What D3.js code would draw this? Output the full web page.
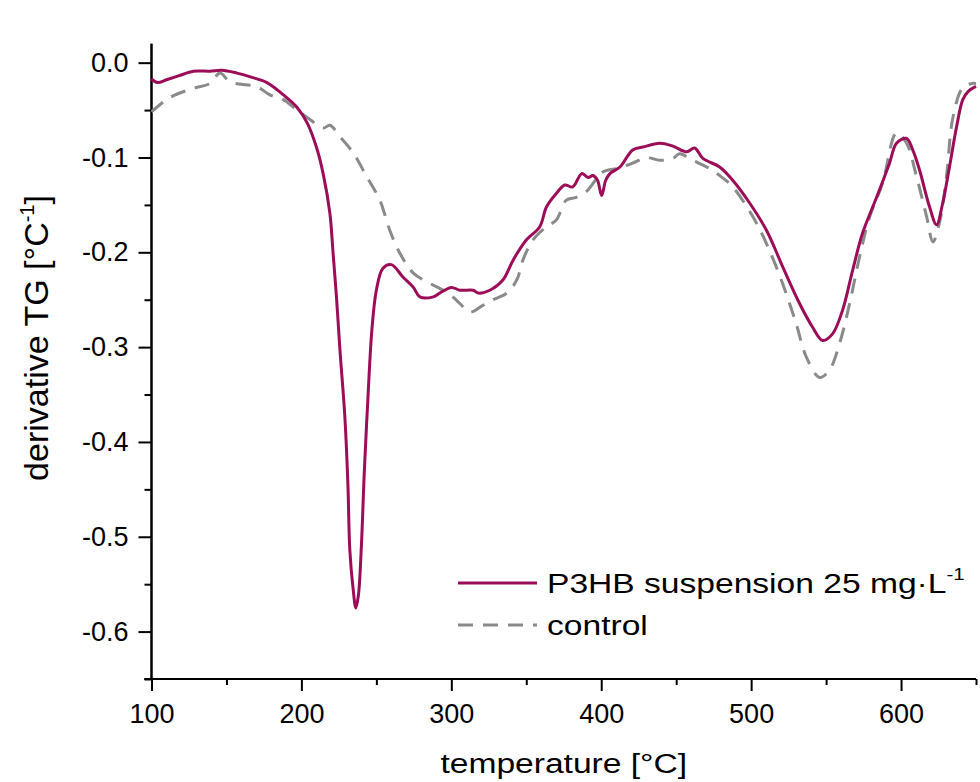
<!DOCTYPE html>
<html>
<head>
<meta charset="utf-8">
<script src="https://cdn.jsdelivr.net/npm/d3@7.9.0/dist/d3.min.js"></script>
<style>
  html, body { margin: 0; padding: 0; background: #fff; }
  svg { display: block; font-family: "Liberation Sans", Arial, sans-serif; }
</style>
</head>
<body>
<svg id="chart" width="980" height="782"></svg>
<script>
// P3HB suspension 25 mg/L (solid)
const p3hbTemp = [100,104,110,118,128,139,147,157,166,177,188,197,204,210,214.5,219,221,223.5,225.7,229,231,232.3,234.5,236.3,238,240,242,244.3,247,250,254.3,260,267.7,274.7,279,288,292.3,300,305.7,314.5,318,325.7,334.5,341.3,350,359,363.5,370,375.7,381,387,391.2,394.5,397.5,400.3,403,405.8,412.5,421,427.8,439,447.8,457,462.3,467.8,479,487.7,499,510.3,521,532.3,541,547.7,554.3,561,567.7,574.3,583.7,592.3,597,603.7,607.8,612.3,619,623.7,627.8,632.3,637,641.2,645,650];
const p3hbValue = [-0.017,-0.021,-0.018,-0.014,-0.009,-0.009,-0.008,-0.011,-0.015,-0.021,-0.034,-0.047,-0.064,-0.089,-0.117,-0.159,-0.198,-0.25,-0.303,-0.374,-0.444,-0.514,-0.555,-0.575,-0.562,-0.51,-0.43,-0.356,-0.282,-0.24,-0.217,-0.213,-0.226,-0.237,-0.247,-0.247,-0.243,-0.237,-0.24,-0.24,-0.243,-0.24,-0.229,-0.208,-0.187,-0.173,-0.152,-0.138,-0.129,-0.131,-0.117,-0.121,-0.119,-0.124,-0.14,-0.124,-0.117,-0.11,-0.092,-0.089,-0.085,-0.088,-0.094,-0.09,-0.101,-0.11,-0.124,-0.148,-0.177,-0.215,-0.254,-0.279,-0.293,-0.286,-0.261,-0.219,-0.18,-0.142,-0.106,-0.085,-0.08,-0.092,-0.113,-0.152,-0.171,-0.148,-0.11,-0.068,-0.039,-0.03,-0.025];

// control (dashed)
const controlTemp = [100,112,128,139,145.7,152,161,170,179,188,197,205.7,214.5,219,225.7,234.5,243.5,252.3,259,265.7,274.7,286,294.7,301,305.7,312.3,321,327.8,337,343.7,347.8,354.5,363.5,370,376.7,383.3,390,397,401.3,412.5,421,430.3,439,447.8,452.3,461,470.3,479,487.7,501,510.3,521,530,536.7,545.7,552.3,559,565.7,572.3,579,587.7,597,603.7,610.3,617,621.3,626,630.3,634.7,641.3,647.3,650];
const controlValue = [-0.052,-0.037,-0.027,-0.022,-0.011,-0.02,-0.023,-0.025,-0.034,-0.039,-0.05,-0.06,-0.069,-0.066,-0.078,-0.095,-0.12,-0.145,-0.177,-0.201,-0.222,-0.233,-0.24,-0.247,-0.254,-0.263,-0.256,-0.25,-0.243,-0.229,-0.208,-0.187,-0.173,-0.166,-0.145,-0.142,-0.136,-0.122,-0.115,-0.111,-0.106,-0.1,-0.103,-0.101,-0.096,-0.103,-0.11,-0.119,-0.131,-0.162,-0.191,-0.233,-0.275,-0.31,-0.332,-0.324,-0.296,-0.254,-0.205,-0.163,-0.127,-0.074,-0.085,-0.12,-0.162,-0.189,-0.166,-0.12,-0.057,-0.026,-0.022,-0.022];

const xMajor = [100,200,300,400,500,600];
const xMinor = [150,250,350,450,550,650];
const yMajor = [0,-0.1,-0.2,-0.3,-0.4,-0.5,-0.6];
const yMinor = [-0.05,-0.15,-0.25,-0.35,-0.45,-0.55,-0.65];

const svg = d3.select('#chart');
const plotLeft = 151.5, plotRight = 976, plotTop = 43.7, plotBottom = 679;
const stretch = 1.2; // the source figure's lettering is a bit wide

const x = d3.scaleLinear().domain([100, 650]).range([plotLeft, plotRight]);
const y = d3.scaleLinear().domain([-0.65, 0.02]).range([plotBottom, plotTop]);

const purple = '#9c0c57';
const grey = '#8a8a8a';
const dash = '15 10';

/*axes*/
const xAxis = svg.append('g').attr('transform', `translate(0,${plotBottom})`);
xAxis.call(d3.axisBottom(x).tickValues(xMajor).tickSize(12).tickPadding(13).tickFormat(d3.format('d')));
xAxis.append('g').call(d3.axisBottom(x).tickValues(xMinor).tickSize(6).tickFormat(''));

const yAxis = svg.append('g').attr('transform', `translate(${plotLeft},0)`);
yAxis.call(d3.axisLeft(y).tickValues(yMajor).tickSize(13).tickPadding(10).tickFormat(d => d.toFixed(1).replace('-0.0', '0.0')));
yAxis.append('g').call(d3.axisLeft(y).tickValues(yMinor).tickSize(7).tickFormat(''));

svg.selectAll('.domain').attr('stroke', '#000').attr('stroke-width', 2);
svg.selectAll('.tick line').attr('stroke', '#000').attr('stroke-width', 2);
svg.selectAll('.tick text').attr('font-size', 27).attr('fill', '#000')
  .attr('font-family', '"Liberation Sans", Arial, sans-serif');
// plain axis lines, no outer end caps
xAxis.selectAll('.domain').attr('d', `M${plotLeft - 7},0H${plotRight}`);
yAxis.selectAll('.domain').attr('d', `M0,${plotTop}V${plotBottom}`);

/*curves*/
const line = d3.line()
  .x(d => x(d[0]))
  .y(d => y(d[1]))
  .curve(d3.curveCatmullRom.alpha(0.5));

const controlData = controlTemp.map((t, i) => [t, controlValue[i]]);
const p3hbData = p3hbTemp.map((t, i) => [t, p3hbValue[i]]);

svg.append('path')
  .datum(controlData)
  .attr('d', line)
  .attr('fill', 'none')
  .attr('stroke', grey)
  .attr('stroke-width', 3)
  .attr('stroke-dasharray', dash);

svg.append('path')
  .datum(p3hbData)
  .attr('d', line)
  .attr('fill', 'none')
  .attr('stroke', purple)
  .attr('stroke-width', 3);

/*axis titles*/
svg.append('text')
  .attr('transform', `translate(${(plotLeft + plotRight) / 2},773) scale(${stretch},1)`)
  .attr('text-anchor', 'middle')
  .attr('font-size', 28)
  .text('temperature [°C]');

const yTitle = svg.append('text')
  .attr('transform', `translate(48,338) rotate(-90)`)
  .attr('text-anchor', 'middle')
  .attr('font-size', 34);
yTitle.append('tspan').text('derivative TG [°C');
yTitle.append('tspan').attr('font-size', 20).attr('dy', -14).text('-1');
yTitle.append('tspan').attr('dy', 14).text(']');

/*legend*/
const legend = svg.append('g');
const entries = [
  { label: 'P3HB suspension 25 mg·L', sup: '-1', color: purple, dash: null, y: 583 },
  { label: 'control', sup: null, color: grey, dash: dash, y: 625 }
];
entries.forEach(e => {
  legend.append('line')
    .attr('x1', 458).attr('x2', 537)
    .attr('y1', e.y).attr('y2', e.y)
    .attr('stroke', e.color)
    .attr('stroke-width', 3)
    .attr('stroke-dasharray', e.dash);
  const t = legend.append('text')
    .attr('transform', `translate(547,${e.y + 10}) scale(${stretch},1)`)
    .attr('font-size', 28);
  t.append('tspan').text(e.label);
  if (e.sup) t.append('tspan').attr('font-size', 17).attr('dy', -13).text(e.sup);
});
</script>
</body>
</html>
